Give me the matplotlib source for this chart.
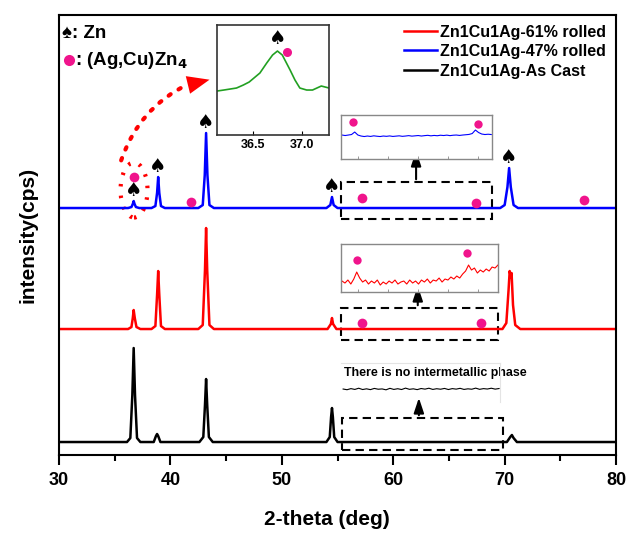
import matplotlib
matplotlib.use('Agg')
import matplotlib.pyplot as plt
import numpy as np
from matplotlib.patches import Rectangle, Ellipse, FancyArrowPatch

plt.rcParams['font.family'] = ['Liberation Sans', 'DejaVu Sans']
plt.rcParams['font.weight'] = 'bold'

PINK = '#f0148c'

# main traces (2-theta, stacked intensity)
blue_x = [30, 36.2, 36.5, 36.62, 36.7, 36.78, 36.9, 37.2, 38.3, 38.65, 38.8, 38.9, 39.0, 39.15, 39.5,
          42.5, 42.9, 43.08, 43.2, 43.32, 43.5, 43.9, 54.0, 54.35, 54.5, 54.65, 55.0,
          69.6, 70.0, 70.25, 70.4, 70.55, 70.8, 71.2, 80]
blue_y = [247, 247, 248, 251, 254, 251, 248, 247, 247, 249, 262, 278, 262, 249, 247,
          247, 250, 280, 322, 280, 250, 247, 247, 250, 258, 250, 247,
          247, 250, 268, 287, 268, 250, 247, 247]

red_x = [30, 36.2, 36.5, 36.62, 36.7, 36.8, 36.95, 37.3, 38.3, 38.65, 38.8, 38.9, 39.0, 39.15, 39.5,
         42.5, 42.9, 43.1, 43.2, 43.3, 43.5, 43.9, 54.1, 54.4, 54.5, 54.6, 54.9,
         69.8, 70.15, 70.35, 70.45, 70.55, 70.62, 70.75, 70.95, 71.4, 80]
red_y = [126, 126, 128, 137, 145, 137, 128, 126, 126, 129, 160, 184, 160, 129, 126,
         126, 130, 185, 227, 185, 130, 126, 126, 131, 137, 131, 126,
         126, 132, 165, 184, 178, 182, 150, 130, 126, 126]

black_x = [30, 36.1, 36.4, 36.58, 36.7, 36.82, 37.0, 37.3, 38.5, 38.7, 38.8, 38.9, 39.1,
           42.6, 42.95, 43.1, 43.2, 43.3, 43.45, 43.8, 54.0, 54.3, 54.42, 54.5, 54.58, 54.7, 55.0,
           70.2, 70.5, 70.65, 70.8, 71.1, 80]
black_y = [13, 13, 17, 60, 107, 60, 17, 13, 13, 19, 21, 19, 13,
           13, 18, 50, 76, 50, 18, 13, 13, 18, 38, 47, 38, 18, 13,
           13, 18, 20, 17, 13, 13]

# zoomed detail traces
blue_ins_y = [320, 319.5, 320, 320.5, 323, 320, 319, 318.5, 319, 318.6, 319.2, 318.8, 318.5, 319, 318.7,
              319.1, 318.6, 318.9, 319.2, 318.7, 319, 319.4, 318.9, 319.2, 319.5, 319, 319.4, 319.7,
              319.2, 319.6, 319.3, 319.8, 319.5, 319.9, 319.4, 319.8, 320, 319.6, 320, 320.3, 320.6,
              321.5, 325, 322.5, 321, 320.5, 320.8, 320.5]
red_ins_y = [174, 172, 175, 171, 176, 183, 177, 173, 175, 171, 174, 172, 175, 170, 173, 171, 174, 172,
             175, 171, 173, 174, 171, 175, 172, 174, 171, 175, 173, 176, 172, 175, 174, 177, 173, 176,
             175, 178, 176, 179, 177, 181, 184, 190, 185, 187, 182, 185, 183, 186, 184, 188, 187, 190]
black_ins_y = [66, 65.3, 66.4, 65.6, 66.8, 65.5, 66.2, 65.4, 66.6, 65.8, 66.1, 65.2, 66.7, 65.6, 66.3,
               65.5, 66.9, 65.7, 66.2, 65.4, 66.5, 65.9, 66.8, 65.6, 66.3, 65.8, 66.6, 65.5, 66.4,
               65.9, 66.7, 65.6, 66.2, 65.8, 66.9, 65.7, 66.4, 66.0, 66.8, 65.9, 66.5]

green_x = [36.13, 36.2, 36.33, 36.4, 36.46, 36.57, 36.64, 36.7, 36.75, 36.8, 36.88, 36.93, 36.98,
           37.05, 37.11, 37.2, 37.28]
green_y = [364, 365, 367, 370, 373, 382, 392, 400, 404, 400, 385, 375, 367, 365, 365, 369, 367]

# phase markers
zn_x = [36.7, 38.9, 43.2, 54.5, 70.4]
zn_y = [255, 279, 323, 259, 288]
blue_ph_x = [36.73, 41.85, 57.2, 67.45, 77.1]
blue_ph_y = [278, 253, 257, 252, 255]
red_ph_x = [57.2, 67.9]
red_ph_y = [132, 132]
blue_ins_ph_x = [56.4, 67.6]
blue_ins_ph_y = [333, 331]
red_ins_ph_x = [56.75, 66.62]
red_ins_ph_y = [195, 202]

fig = plt.figure(figsize=(6.28, 5.33), dpi=100)
ax = fig.add_axes([0.094, 0.1463, 0.887, 0.8255])

ax.plot(red_x, red_y, color='red', lw=1.8, label='Zn1Cu1Ag-61% rolled')
ax.plot(blue_x, blue_y, color='blue', lw=1.8, label='Zn1Cu1Ag-47% rolled')
ax.plot(black_x, black_y, color='black', lw=1.8, label='Zn1Cu1Ag-As Cast')

for x, y in zip(zn_x, zn_y):
    ax.text(x, y, '\u2660', ha='center', va='bottom', fontsize=14, family='DejaVu Sans')
ax.plot(blue_ph_x, blue_ph_y, 'o', color=PINK, ms=7, mec='none')
ax.plot(red_ph_x, red_ph_y, 'o', color=PINK, ms=7, mec='none')

# dashed boxes with arrows
boxes = [(55.3, 236, 13.6, 37, 62.05, 307),
         (55.3, 115, 14.1, 32, 62.2, 172),
         (55.4, 5, 14.45, 32, 62.3, 60)]
for bx, by, bw, bh, axx, tip in boxes:
    ax.add_patch(Rectangle((bx, by), bw, bh, fill=False, ec='black', lw=1.5, ls=(0, (4, 2.5))))
    ax.annotate('', xy=(axx, tip), xytext=(axx, by + bh),
                arrowprops=dict(arrowstyle='-|>,head_length=0.9,head_width=0.3', color='black', lw=1.5))

# blue detail
ib = ax.inset_axes([55.31, 296, 13.56, 44], transform=ax.transData)
ib.plot(np.linspace(55.4, 68.8, len(blue_ins_y)), blue_ins_y, color='blue', lw=0.8)
ib.plot(blue_ins_ph_x, blue_ins_ph_y, 'o', color=PINK, ms=6, mec='none')
ib.set_xlim(55.31, 68.87)
ib.set_ylim(296, 340)

# red detail
ir = ax.inset_axes([55.31, 163, 14.09, 48], transform=ax.transData)
ir.plot(np.linspace(55.4, 69.4, len(red_ins_y)), red_ins_y, color='red', lw=0.8)
ir.plot(red_ins_ph_x, red_ins_ph_y, 'o', color=PINK, ms=6, mec='none')
ir.set_xlim(55.31, 69.4)
ir.set_ylim(163, 211)

for ia in (ib, ir):
    ia.set_xticks([56.8, 59.5, 62.2, 64.9, 67.6])
    ia.set_yticks([])
    ia.tick_params(axis='x', direction='in', length=2.5, width=0.6, color='#888888', labelbottom=False)
    for s in ia.spines.values():
        s.set_color('#888888')
        s.set_linewidth(1)

# black detail
ik = ax.inset_axes([55.31, 53, 14.29, 39], transform=ax.transData)
ik.plot(np.linspace(55.5, 69.5, len(black_ins_y)), black_ins_y, color='black', lw=0.8)
ik.set_xlim(55.31, 69.6)
ik.set_ylim(53, 92)
ik.set_xticks([])
ik.set_yticks([])
ik.patch.set_alpha(0)
for k, s in ik.spines.items():
    s.set_color('#e4e4e4')
    s.set_linewidth(0.8)
    s.set_visible(k in ('top', 'right'))
ax.text(55.6, 82, 'There is no intermetallic phase', fontsize=8.9, fontweight='bold', va='center')

# green zoom of the 36.7 peak
ig = ax.inset_axes([44.18, 320, 10.06, 110], transform=ax.transData)
ig.plot(green_x, green_y, color='#22a022', lw=1.2)
ig.text(36.75, 407, '\u2660', ha='center', va='bottom', fontsize=14, family='DejaVu Sans')
ig.plot([36.85], [403], 'o', color=PINK, ms=6.5, mec='none')
ig.set_xlim(36.13, 37.28)
ig.set_ylim(320, 430)
ig.set_xticks([36.5, 37.0])
ig.set_xticklabels(['36.5', '37.0'])
ig.set_yticks([])
ig.tick_params(axis='x', direction='in', length=3, labelsize=9, pad=3)
for s in ig.spines.values():
    s.set_linewidth(1.2)
    s.set_color('#333333')

# red dotted callout
ax.add_patch(Ellipse((36.73, 265), 2.42, 55, fill=False, ec='red', lw=3, ls=(0, (0.6, 2.2))))
ax.add_patch(FancyArrowPatch((35.5, 292), (41.8, 372), arrowstyle='-', connectionstyle='arc3,rad=-0.22',
                             color='red', lw=3, ls=(0, (0.6, 2.2))))
ax.annotate('', xy=(43.75, 376), xytext=(41.9, 371),
            arrowprops=dict(arrowstyle='-|>,head_length=1.6,head_width=0.65', color='red', lw=0))

# phase key
ax.text(30.3, 422, '\u2660: Zn', fontsize=13.5, fontweight='bold', va='center')
ax.plot([30.9], [395], 'o', color=PINK, ms=8, mec='none')
ax.text(31.4, 395, ': (Ag,Cu)Zn$_\\mathbf{4}$', fontsize=13.5, fontweight='bold', va='center')

ax.set_xlim(30, 80)
ax.set_ylim(0, 440)
ax.set_xticks([30, 40, 50, 60, 70, 80])
ax.set_xticks([35, 45, 55, 65, 75], minor=True)
ax.set_yticks([])
ax.tick_params(axis='x', which='major', direction='out', length=7, width=1.5, labelsize=13, pad=5)
ax.tick_params(axis='x', which='minor', direction='out', length=4, width=1.5)
for lab in ax.get_xticklabels():
    lab.set_fontweight('bold')
for s in ax.spines.values():
    s.set_linewidth(1.5)

ax.set_xlabel('2-theta (deg)', fontsize=15, fontweight='bold')
ax.xaxis.set_label_coords(0.481, -0.125)
ax.set_ylabel('intensity(cps)', fontsize=15, fontweight='bold')
ax.yaxis.set_label_coords(-0.038, 0.5)

leg = ax.legend(loc='upper right', bbox_to_anchor=(1.0, 1.0), frameon=False, fontsize=11.5,
                handlelength=2.1, handletextpad=0.2, labelspacing=0.28, borderaxespad=0.2)
for t in leg.get_texts():
    t.set_fontweight('bold')

fig.savefig('out.png', dpi=100)
